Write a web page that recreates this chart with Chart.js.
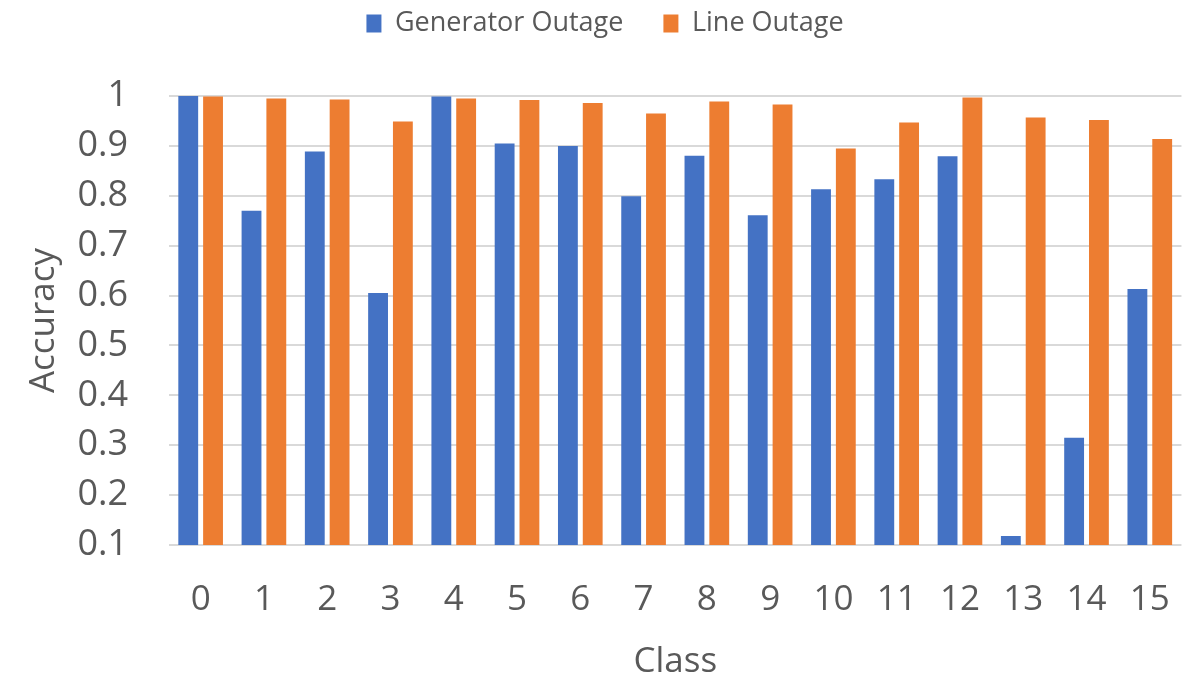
<!DOCTYPE html>
<html>
<head>
<meta charset="utf-8">
<script src="https://cdn.jsdelivr.net/npm/chart.js@4"></script>
<style>
  html, body { margin: 0; padding: 0; background: #fff; }
  #wrap { width: 1196px; height: 679px; }
</style>
</head>
<body>
<div id="wrap"><canvas id="acc"></canvas></div>
<script>
var classes = ['0', '1', '2', '3', '4', '5', '6', '7', '8', '9', '10', '11', '12', '13', '14', '15'];
var generatorOutage = [1.0, 0.77, 0.889, 0.605, 0.999, 0.905, 0.9, 0.799, 0.88, 0.761, 0.813, 0.833, 0.879, 0.118, 0.315, 0.613];
var lineOutage = [0.999, 0.995, 0.993, 0.949, 0.995, 0.992, 0.986, 0.965, 0.989, 0.983, 0.895, 0.947, 0.997, 0.957, 0.952, 0.914];

var textColor = '#595959';
var fontName = "'Open Sans', sans-serif";

// legend: extra room below it, nudged a little to the right
var legendTweak = {
    id: 'legendTweak',
    beforeInit: function (chart) {
        var fit = chart.legend.fit;
        var draw = chart.legend.draw;
        chart.legend.fit = function () {
            fit.bind(chart.legend)();
            this.height += 49;
        };
        chart.legend.draw = function () {
            var ctx = chart.ctx;
            ctx.save();
            ctx.translate(10, 0);
            draw.bind(chart.legend)();
            ctx.restore();
        };
    }
};

var acc = new Chart(document.getElementById("acc"), {
    type: 'bar',
    data: {
        labels: classes,
        datasets: [{
                label: 'Generator Outage',
                data: generatorOutage,
                backgroundColor: '#4472C4',
                categoryPercentage: 0.784,
                barPercentage: 0.8
            },
            {
                label: 'Line Outage',
                data: lineOutage,
                backgroundColor: '#ED7D31',
                categoryPercentage: 0.784,
                barPercentage: 0.8
            }]
    },
    options: {
        responsive: true,
        maintainAspectRatio: false,
        animation: false,
        layout: { padding: { top: -30, right: 6, bottom: 0, left: 0 } },
        plugins: {
            tooltip: { enabled: false },
            legend: {
                position: 'top',
                labels: {
                    color: textColor,
                    font: { family: fontName, size: 27 },
                    boxWidth: 15,
                    boxHeight: 18,
                    padding: 40
                }
            }
        },
        scales: {
            x: {
                grid: { display: false },
                border: { display: false },
                ticks: { color: textColor, font: { family: fontName, size: 35 }, padding: 26, maxRotation: 0 },
                title: { display: true, text: 'Class', color: textColor, font: { family: fontName, size: 35 }, padding: { top: 0, bottom: -4 } },
                afterFit: function (axis) { axis.height = 134; }
            },
            y: {
                min: 0.1,
                max: 1,
                grid: { color: '#d9d9d9', lineWidth: 2, drawTicks: false },
                border: { display: false },
                ticks: {
                    stepSize: 0.1,
                    color: textColor,
                    font: { family: fontName, size: 36 },
                    padding: 41,
                    callback: function (value) { return String(Number(value.toFixed(1))); }
                },
                title: { display: true, text: 'Accuracy', color: textColor, font: { family: fontName, size: 35 }, padding: { top: 23, bottom: 0 } },
                afterFit: function (axis) { axis.width = 169; }
            }
        }
    },
    plugins: [legendTweak]
});
</script>
</body>
</html>
